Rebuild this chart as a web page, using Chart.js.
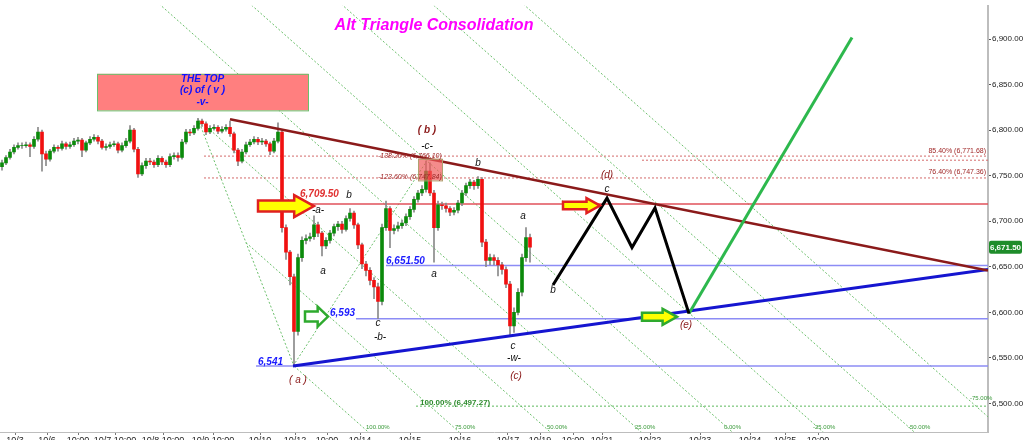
<!DOCTYPE html>
<html><head><meta charset="utf-8">
<script src="https://cdn.jsdelivr.net/npm/chart.js@4/dist/chart.umd.min.js"></script>
<style>html,body{margin:0;padding:0;background:#fff}canvas{display:block}</style>
</head><body>
<canvas id="c" width="1024" height="440"></canvas>
<script>
// ---------- DATA ----------
const firstOpen = 6760;
const closes = [6764,6770,6776,6781,6783,6783,6784,6782,6790,6798,6774,6768,6777,6781,6780,6785,6782,6784,6788,6789,
6778,6786,6790,6792,6788,6781,6782,6784,6785,6778,6783,6788,6800,6779,6752,6761,6766,6765,6762,6769,
6765,6762,6771,6772,6770,6787,6798,6797,6802,6810,6807,6798,6802,6803,6799,6801,6803,6796,6778,6766,
6776,6784,6787,6790,6787,6788,6785,6777,6788,6798,6693,6666,6639,6579,6660,6679,6681,6683,6696,6687,
6673,6679,6687,6694,6697,6691,6703,6709,6696,6674,6653,6646,6635,6628,6612,6693,6714,6690,6692,6695,
6698,6705,6713,6724,6731,6735,6755,6731,6693,6718,6717,6714,6710,6712,6720,6731,6739,6743,6739,6746,
6677,6657,6660,6657,6652,6647,6631,6585,6600,6622,6660,6682,6671.5];
const highs = [6767,6772,6779,6784,6786,6786,6787,6786,6793,6803,6800,6777,6779,6784,6783,6788,6787,6787,6791,6792,
6791,6788,6793,6795,6794,6790,6785,6787,6788,6787,6786,6791,6805,6802,6781,6764,6769,6769,6767,6772,
6771,6767,6774,6775,6775,6790,6801,6801,6805,6813,6812,6809,6805,6806,6805,6804,6806,6810,6798,6780,
6779,6787,6790,6793,6792,6791,6790,6787,6791,6808,6800,6696,6668,6642,6664,6683,6685,6687,6706,6699,
6689,6682,6690,6697,6700,6700,6706,6714,6711,6698,6676,6656,6649,6638,6632,6697,6722,6716,6696,6699,
6701,6708,6716,6727,6734,6739,6766,6764,6734,6722,6721,6720,6716,6715,6723,6734,6742,6746,6745,6749,
6748,6680,6664,6663,6660,6655,6650,6634,6605,6626,6664,6693,6686];
const lows = [6756,6762,6768,6774,6779,6780,6781,6771,6780,6788,6755,6761,6766,6775,6777,6778,6779,6780,6782,6785,
6771,6776,6784,6788,6785,6779,6778,6780,6782,6775,6776,6781,6786,6776,6748,6750,6758,6762,6759,6760,
6762,6759,6760,6768,6766,6768,6785,6794,6795,6800,6804,6795,6796,6800,6796,6797,6799,6793,6775,6761,
6764,6774,6782,6785,6784,6784,6782,6773,6775,6786,6688,6658,6630,6541,6575,6656,6675,6678,6680,6683,
6662,6670,6676,6684,6690,6687,6689,6700,6692,6670,6648,6640,6630,6615,6593,6608,6690,6671,6686,6689,
6692,6695,6702,6710,6721,6728,6732,6728,6655,6690,6713,6710,6706,6707,6709,6717,6728,6736,6735,6736,
6672,6650,6652,6652,6640,6642,6627,6575,6578,6597,6618,6656,6655];
const lastPrice = 6671.5;
const yTicks = [6500,6550,6600,6650,6700,6750,6800,6850,6900];
const xTickBars = [3.25,11.25,19,28.25,40.25,52.75,64.5,73.25,81.25,89.5,102,114.5,126.5,134.5,142.75,150,162,174.5,187,195.75,204];
const xTickLabels = ['10/3','10/6','10:00','10/7 10:00','10/8 10:00','10/9 10:00','10/10','10/12','10:00','10/14','10/15','10/16','10/17','10/19','10:00','10/21','10/22','10/23','10/24','10/25','10:00'];

// drawings, in (bar index, price)
const downTrend = [[57,6812],[246.5,6646]];
const upTrend = [[72.75,6541],[246.5,6647]];
const projBlack = [[137.75,6630],[151.25,6725.3],[157.5,6671.1],[163.25,6714.5],[171.75,6598.6]];
const projGreen = [[171.75,6598.6],[212.5,6901.8]];
const redLevel = {price:6719, from:76};
const blueLevels = [{price:6651.5, from:96},{price:6593, from:88.5},{price:6541, from:63.5}];
const fibRed = [{price:6771.5, from:50.5},{price:6767, from:160},{price:6747.5, from:50.5}];
const fibGreen = {price:6497, from:103.5};
// Fibonacci channel: base from the top (bar 49) to the (a) low (bar 73); parallel lines 100% .. -75%
const channelBase = [[49,6812],[73,6541]];
const channelLines = [
 [[73,6541],[98.9,6440]],
 [[61,6676.5],[121.6,6440]],
 [[49,6812],[144.4,6440]],
 [[37,6947.5],[167.1,6440]],
 [[25,7083],[189.9,6440]],
 [[13,7218.5],[212.6,6440]],
 [[1,7354],[235.4,6440]],
 [[-11,7489.5],[258.1,6440]]
];
const riseLine = [[72.75,6541],[106.25,6766.5]];
const xMax = 246.5, yMin = 6468.6, yMax = 6936.5;

// ---------- CHART ----------
const FONT = '"Liberation Sans", Arial, sans-serif';
const opens = closes.map((c,i)=> i===0 ? firstOpen : closes[i-1]);
const pts = arr => arr.map(p=>({x:p[0], y:p[1]}));
const lineDs = (data, color, width, dash, order) => ({type:'line', data, borderColor:color, borderWidth:width, borderDash:dash||[], pointRadius:0, fill:false, tension:0, order});

const datasets = [];
datasets.push({type:'bar', data: closes.map((c,i)=>({x:i, y:[opens[i], c]})),
  backgroundColor: closes.map((c,i)=> c>=opens[i] ? '#0b8a0b' : '#f01010'),
  barThickness:3, grouped:false, order:5});
datasets.push({type:'bar', data: closes.map((c,i)=>({x:i, y:[lows[i], highs[i]]})),
  backgroundColor:'#8a8a8a', barThickness:1, grouped:false, order:6});
channelLines.forEach(l=>datasets.push(lineDs(pts(l), '#6cbf6c', 1, [2,2], 20)));
datasets.push(lineDs(pts(channelBase), '#6cbf6c', 1, [2,2], 20));
datasets.push(lineDs(pts(riseLine), '#6cbf6c', 1, [2,2], 20));
fibRed.forEach(l=>datasets.push(lineDs([{x:l.from,y:l.price},{x:xMax,y:l.price}], '#d46a6a', 1, [2,2], 15)));
datasets.push(lineDs([{x:fibGreen.from,y:fibGreen.price},{x:xMax,y:fibGreen.price}], '#5cb85c', 1, [2,2], 15));
blueLevels.forEach(l=>datasets.push(lineDs([{x:l.from,y:l.price},{x:xMax,y:l.price}], '#8c8cf5', 1.5, [], 12)));
datasets.push(lineDs([{x:redLevel.from,y:redLevel.price},{x:xMax,y:redLevel.price}], '#e0505a', 1.5, [], 12));
datasets.push(lineDs(pts(downTrend), '#8b1a1a', 2.5, [], 2));
datasets.push(lineDs(pts(upTrend), '#1515d0', 3, [], 2));
datasets.push(lineDs(pts(projBlack), '#000000', 3, [], 1));
datasets.push(lineDs(pts(projGreen), '#2db84d', 3, [], 1));

const texts = [
 {t:'( b )', v:106.25, p:6800, c:'#8b1a1a', f:'italic bold 10px'},
 {t:'-c-', v:106.25, p:6782.7, c:'#111', f:'italic 10px'},
 {t:'-138.20% (6,766.10)', v:94, p:6771.9, c:'#a02828', f:'italic 7px', a:'left'},
 {t:'-123.60% (6,747.84)', v:94, p:6748, c:'#a02828', f:'italic 7px', a:'left'},
 {t:'b', v:119, p:6763.2, c:'#111', f:'italic 10px'},
 {t:'85.40% (6,771.68)', v:246, p:6777.3, c:'#a02828', f:'7px', a:'right'},
 {t:'76.40% (6,747.36)', v:246, p:6753.5, c:'#a02828', f:'7px', a:'right'},
 {t:'(d)', v:151.25, p:6750.2, c:'#8b1a1a', f:'italic 10px'},
 {t:'c', v:151.25, p:6735, c:'#111', f:'italic 10px'},
 {t:'6,709.50', v:74.5, p:6729.6, c:'#e03030', f:'italic bold 10px', a:'left'},
 {t:'-a-', v:79, p:6712.3, c:'#111', f:'italic 10px'},
 {t:'b', v:86.75, p:6728.5, c:'#111', f:'italic 10px'},
 {t:'a', v:80.25, p:6645.2, c:'#111', f:'italic 10px'},
 {t:'6,651.50', v:96, p:6656, c:'#1a1aff', f:'italic bold 10px', a:'left'},
 {t:'a', v:108, p:6641.9, c:'#111', f:'italic 10px'},
 {t:'a', v:130.25, p:6705.8, c:'#111', f:'italic 10px'},
 {t:'b', v:137.75, p:6624.6, c:'#111', f:'italic 10px'},
 {t:'6,593', v:82, p:6598.6, c:'#1a1aff', f:'italic bold 10px', a:'left'},
 {t:'c', v:94, p:6587.7, c:'#111', f:'italic 10px'},
 {t:'-b-', v:94.5, p:6572.6, c:'#111', f:'italic 10px'},
 {t:'c', v:127.75, p:6562.8, c:'#111', f:'italic 10px'},
 {t:'-w-', v:128, p:6549.8, c:'#111', f:'italic 10px'},
 {t:'(c)', v:128.5, p:6529.3, c:'#8b1a1a', f:'italic 10px'},
 {t:'(e)', v:171, p:6585.6, c:'#8b1a1a', f:'italic 10px'},
 {t:'6,541', v:64, p:6545.5, c:'#1a1aff', f:'italic bold 10px', a:'left'},
 {t:'( a )', v:74, p:6524.9, c:'#8b1a1a', f:'italic 10px'},
 {t:'100.00% (6,497.27)', v:104.5, p:6501.1, c:'#2e8b2e', f:'bold 8px', a:'left'},
 {t:'100.00%', v:91, p:6474, c:'#3a9a3a', f:'6px', a:'left'},
 {t:'75.00%', v:113.25, p:6474, c:'#3a9a3a', f:'6px', a:'left'},
 {t:'50.00%', v:136.25, p:6474, c:'#3a9a3a', f:'6px', a:'left'},
 {t:'25.00%', v:158.25, p:6474, c:'#3a9a3a', f:'6px', a:'left'},
 {t:'0.00%', v:180.5, p:6474, c:'#3a9a3a', f:'6px', a:'left'},
 {t:'-25.00%', v:202.75, p:6474, c:'#3a9a3a', f:'6px', a:'left'},
 {t:'-50.00%', v:226.5, p:6474, c:'#3a9a3a', f:'6px', a:'left'},
 {t:'-75.00%', v:242, p:6505.4, c:'#3a9a3a', f:'6px', a:'left'},
 {t:'Alt Triangle Consolidation', v:108, p:6914.8, c:'#ff00ff', f:'italic bold 16px'}
];
const topBox = {v1:23.75, v2:76.5, p1:6861.8, p2:6821.7, lines:[['THE TOP',6856.4],['(c) of ( v )',6843.4],['-v-',6830.4]]};
const cBox = {v1:104, v2:110, p1:6768.6, p2:6744.8};
const arrows = [
 {v1:64, v2:78, p:6716.6, h:22, fill:'#ffff00', stroke:'#e02020'},
 {v1:140.25, v2:149.5, p:6717.2, h:15, fill:'#ffff00', stroke:'#e02020'},
 {v1:160, v2:168.75, p:6595, h:16, fill:'#ffff00', stroke:'#2eaa2e'},
 {v1:75.75, v2:81.5, p:6595.3, h:20, fill:'#ffffff', stroke:'#2eaa2e'}
];

function arrowPath(ctx,x1,x2,yc,h){
  const head = Math.min(h*0.9,(x2-x1)*0.45), sh = h*0.25;
  ctx.beginPath();
  ctx.moveTo(x1,yc-sh); ctx.lineTo(x2-head,yc-sh); ctx.lineTo(x2-head,yc-h/2);
  ctx.lineTo(x2,yc); ctx.lineTo(x2-head,yc+h/2); ctx.lineTo(x2-head,yc+sh);
  ctx.lineTo(x1,yc+sh); ctx.closePath();
}
const annot = {
  id:'annot',
  afterDatasetsDraw(chart){
    const {ctx, scales:{x,y}} = chart;
    ctx.save();
    const bx1=x.getPixelForValue(topBox.v1), bx2=x.getPixelForValue(topBox.v2);
    const by1=y.getPixelForValue(topBox.p1), by2=y.getPixelForValue(topBox.p2);
    ctx.fillStyle='#ff7f7f'; ctx.fillRect(bx1,by1,bx2-bx1,by2-by1);
    ctx.strokeStyle='#6cbf6c'; ctx.lineWidth=1; ctx.strokeRect(bx1+0.5,by1+0.5,bx2-bx1,by2-by1);
    ctx.fillStyle='#1010ff'; ctx.font='italic bold 10px '+FONT; ctx.textAlign='center'; ctx.textBaseline='middle';
    topBox.lines.forEach(l=>ctx.fillText(l[0], (bx1+bx2)/2, y.getPixelForValue(l[1])));
    const cx1=x.getPixelForValue(cBox.v1), cx2=x.getPixelForValue(cBox.v2);
    const cy1=y.getPixelForValue(cBox.p1), cy2=y.getPixelForValue(cBox.p2);
    ctx.fillStyle='rgba(240,90,90,0.7)'; ctx.fillRect(cx1,cy1,cx2-cx1,cy2-cy1);
    ctx.strokeStyle='#b0a070'; ctx.strokeRect(cx1+0.5,cy1+0.5,cx2-cx1,cy2-cy1);
    arrows.forEach(a=>{
      arrowPath(ctx, x.getPixelForValue(a.v1), x.getPixelForValue(a.v2), y.getPixelForValue(a.p), a.h);
      ctx.fillStyle=a.fill; ctx.fill(); ctx.lineWidth=2.5; ctx.strokeStyle=a.stroke; ctx.lineJoin='miter'; ctx.stroke();
    });
    texts.forEach(o=>{
      ctx.font=o.f+' '+FONT; ctx.fillStyle=o.c; ctx.textAlign=o.a||'center'; ctx.textBaseline='middle';
      ctx.fillText(o.t, x.getPixelForValue(o.v), y.getPixelForValue(o.p));
    });
    ctx.restore();
  },
  afterDraw(chart){
    const {ctx, scales:{y}, chartArea} = chart;
    const py = y.getPixelForValue(lastPrice);
    ctx.save();
    ctx.fillStyle='#1e8c2a';
    const rx=chartArea.right+1, rw=33, rh=13;
    ctx.beginPath(); ctx.roundRect ? ctx.roundRect(rx,py-rh/2,rw,rh,2) : ctx.rect(rx,py-rh/2,rw,rh); ctx.fill();
    ctx.fillStyle='#fff'; ctx.font='bold 8px '+FONT; ctx.textAlign='center'; ctx.textBaseline='middle';
    ctx.fillText(lastPrice.toLocaleString('en-US',{minimumFractionDigits:2}), rx+rw/2, py+0.5);
    ctx.restore();
  }
};

new Chart(document.getElementById('c'), {
  type:'bar',
  data:{datasets},
  options:{
    responsive:false, animation:false, events:[],
    layout:{padding:0},
    plugins:{legend:{display:false}, tooltip:{enabled:false}, title:{display:false}},
    scales:{
      x:{type:'linear', min:-0.5, max:xMax, offset:false,
        grid:{display:true, drawOnChartArea:false, drawTicks:true, tickLength:3, tickColor:'#777', offset:false},
        border:{display:true, color:'#bdbdbd', width:1},
        afterBuildTicks:s=>{s.ticks = xTickBars.map(v=>({value:v}));},
        afterFit:s=>{s.height=8;},
        ticks:{autoSkip:false, maxRotation:0, padding:0, color:'#222', font:{family:FONT, size:9},
          callback:(v,i)=>xTickLabels[i]}},
      y:{type:'linear', position:'right', min:yMin, max:yMax,
        grid:{display:true, drawOnChartArea:false, drawTicks:true, tickLength:3, tickColor:'#555'},
        border:{display:true, color:'#bdbdbd', width:2},
        afterBuildTicks:s=>{s.ticks = yTicks.map(v=>({value:v}));},
        afterFit:s=>{s.width=36;},
        ticks:{padding:1, color:'#222', font:{family:FONT, size:8},
          callback:v=>v.toLocaleString('en-US',{minimumFractionDigits:2, maximumFractionDigits:2})}}
    }
  },
  plugins:[annot]
});
</script>
</body></html>
